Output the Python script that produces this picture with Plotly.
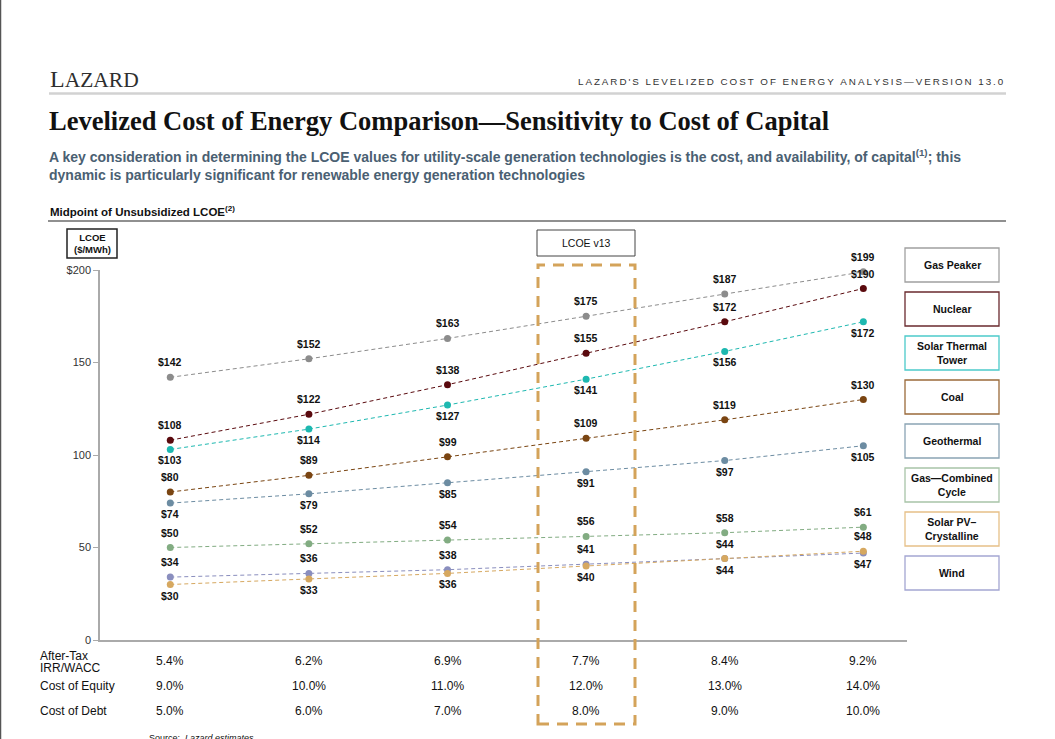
import plotly.graph_objects as go

# ---------------- data ----------------
x_idx = [0, 1, 2, 3, 4, 5]
series_names = ["Gas Peaker", "Nuclear", "Solar Thermal Tower", "Coal", "Geothermal",
                "Gas—Combined Cycle", "Solar PV–Crystalline", "Wind"]
gas_peaker = [142, 152, 163, 175, 187, 199]
nuclear = [108, 122, 138, 155, 172, 190]
solar_thermal = [103, 114, 127, 141, 156, 172]
coal = [80, 89, 99, 109, 119, 130]
geothermal = [74, 79, 85, 91, 97, 105]
gas_cc = [50, 52, 54, 56, 58, 61]
solar_pv = [30, 33, 36, 40, 44, 48]
wind = [34, 36, 38, 41, 44, 47]

irr_wacc = ["5.4%", "6.2%", "6.9%", "7.7%", "8.4%", "9.2%"]
cost_equity = ["9.0%", "10.0%", "11.0%", "12.0%", "13.0%", "14.0%"]
cost_debt = ["5.0%", "6.0%", "7.0%", "8.0%", "9.0%", "10.0%"]

ytick_vals = [0, 50, 100, 150, 200]
ytick_text = ["0", "50", "100", "150", "$200"]

legend_labels = ["Gas Peaker", "Nuclear", "Solar Thermal<br>Tower", "Coal", "Geothermal",
                 "Gas—Combined<br>Cycle", "Solar PV–<br>Crystalline", "Wind"]

# ---------------- styles ----------------
line_colors = ["#8C8C8C", "#5A0A0E", "#1DB8B0", "#7A4512", "#6C8CA2", "#82AC82", "#D6A860", "#8A8EBE"]
box_colors = ["#A0A0A0", "#6A2A2E", "#4CCACA", "#9A6A3A", "#8AA4B4", "#A8C4A8", "#E6C088", "#A4A6D2"]
label_above = [
    [True] * 6,
    [True] * 6,
    [False] * 6,
    [True] * 6,
    [False] * 6,
    [True] * 6,
    [False] * 5 + [True],
    [True] * 5 + [False],
]
all_series = [gas_peaker, nuclear, solar_thermal, coal, geothermal, gas_cc, solar_pv, wind]

W, H = 1055, 739
PL, PR, PT, PB = 100, 907, 270, 640


def fx(px):
    return (px - PL) / (PR - PL)


def fy(py):
    return (PB - py) / (PB - PT)


FONT = "Liberation Sans, Arial, sans-serif"
SERIF = "Liberation Serif, Times New Roman, serif"

fig = go.Figure()

shapes = []
annotations = []

# draw order: bottom series first
for i in reversed(range(len(all_series))):
    vals = all_series[i]
    fig.add_trace(go.Scatter(
        x=x_idx, y=vals, mode="lines+markers",
        name=series_names[i],
        line=dict(color=line_colors[i], width=1, dash="4px,3px"),
        marker=dict(color=line_colors[i], size=7),
        cliponaxis=False,
        showlegend=False,
        hoverinfo="skip",
    ))
    for xi, v, up in zip(x_idx, vals, label_above[i]):
        annotations.append(dict(xref="x", yref="y", x=xi, y=v, text=f"${v}", showarrow=False,
                                xanchor="center", yanchor="middle", yshift=15 if up else -11,
                                font=dict(family=FONT, size=10.5, color="#111111", weight="bold")))

# left page border
shapes.append(dict(type="line", xref="paper", yref="paper", x0=fx(0.5), x1=fx(0.5), y0=fy(0), y1=fy(739),
                   line=dict(color="#555555", width=1.5)))
# header line
shapes.append(dict(type="line", xref="paper", yref="paper", x0=fx(49), x1=fx(1006), y0=fy(93.5), y1=fy(93.5),
                   line=dict(color="#D2D2D2", width=2.5)))
# black line under midpoint label
shapes.append(dict(type="line", xref="paper", yref="paper", x0=fx(48), x1=fx(1006), y0=fy(221), y1=fy(221),
                   line=dict(color="#222222", width=1.2)))
# LCOE ($/MWh) box
shapes.append(dict(type="rect", xref="paper", yref="paper", x0=fx(67), x1=fx(117), y0=fy(258), y1=fy(229),
                   line=dict(color="#222222", width=1.5), fillcolor="white"))
# LCOE v13 box
shapes.append(dict(type="rect", xref="paper", yref="paper", x0=fx(537), x1=fx(635), y0=fy(256), y1=fy(230),
                   line=dict(color="#444444", width=1), fillcolor="white"))
# dashed golden highlight
shapes.append(dict(type="rect", xref="paper", yref="paper", x0=fx(538), x1=fx(635), y0=fy(724), y1=fy(265),
                   line=dict(color="#D4A35A", width=3, dash="11px,8px")))

# legend boxes
for k, (lab, col) in enumerate(zip(legend_labels, box_colors)):
    top = 248 + 44 * k
    shapes.append(dict(type="rect", xref="paper", yref="paper", x0=fx(905), x1=fx(999),
                       y0=fy(top + 34), y1=fy(top), line=dict(color=col, width=1.3), fillcolor="white"))
    annotations.append(dict(xref="paper", yref="paper", x=fx(952), y=fy(top + 17), text=lab,
                            showarrow=False, xanchor="center", yanchor="middle", align="center",
                            font=dict(family=FONT, size=10.5, color="#111111", weight="bold")))

# header texts
annotations.append(dict(xref="paper", yref="paper", x=fx(48), y=fy(79),
                        text="<span style='font-size:24px'>L</span>AZARD", showarrow=False,
                        xanchor="left", yanchor="middle",
                        font=dict(family=SERIF, size=21.5, color="#2E2E2E")))
top_right = "LAZARD'S LEVELIZED COST OF ENERGY ANALYSIS—VERSION 13.0"
annotations.append(dict(xref="paper", yref="paper", x=fx(1006), y=fy(81),
                        text="\u2009".join(top_right), showarrow=False,
                        xanchor="right", yanchor="middle",
                        font=dict(family=FONT, size=9.8, color="#333333")))
annotations.append(dict(xref="paper", yref="paper", x=fx(47), y=fy(121),
                        text="Levelized Cost of Energy Comparison—Sensitivity to Cost of Capital",
                        showarrow=False, xanchor="left", yanchor="middle",
                        font=dict(family=SERIF, size=26.5, color="#111111", weight="bold")))
annotations.append(dict(xref="paper", yref="paper", x=fx(47), y=fy(165),
                        text="A key consideration in determining the LCOE values for utility-scale generation technologies is the cost, and availability, of capital<sup>(1)</sup>; this<br>dynamic is particularly significant for renewable energy generation technologies",
                        showarrow=False, xanchor="left", yanchor="middle", align="left",
                        font=dict(family=FONT, size=14, color="#4A6072", weight="bold")))
annotations.append(dict(xref="paper", yref="paper", x=fx(48), y=fy(211),
                        text="Midpoint of Unsubsidized LCOE<sup>(2)</sup>", showarrow=False,
                        xanchor="left", yanchor="middle",
                        font=dict(family=FONT, size=11.5, color="#111111", weight="bold")))
annotations.append(dict(xref="paper", yref="paper", x=fx(92), y=fy(243.5),
                        text="LCOE<br>($/MWh)", showarrow=False, xanchor="center", yanchor="middle",
                        font=dict(family=FONT, size=9.5, color="#111111", weight="bold")))
annotations.append(dict(xref="paper", yref="paper", x=fx(586), y=fy(243),
                        text="LCOE v13", showarrow=False, xanchor="center", yanchor="middle",
                        font=dict(family=FONT, size=10.5, color="#111111")))

# table rows
row_labels = [("After-Tax", 655.5), ("IRR/WACC", 667.5), ("Cost of Equity", 686), ("Cost of Debt", 711)]
for txt, ypix in row_labels:
    annotations.append(dict(xref="paper", yref="paper", x=fx(38), y=fy(ypix),
                            text=txt, showarrow=False, xanchor="left", yanchor="middle",
                            font=dict(family=FONT, size=12, color="#111111")))
for row_vals, ypix in [(irr_wacc, 661), (cost_equity, 686), (cost_debt, 711)]:
    for i, v in zip(x_idx, row_vals):
        annotations.append(dict(xref="x", yref="paper", x=i, y=fy(ypix), text=v, showarrow=False,
                                xanchor="center", yanchor="middle",
                                font=dict(family=FONT, size=12, color="#111111")))

annotations.append(dict(xref="paper", yref="paper", x=fx(147), y=fy(731),
                        text="Source:  <i>Lazard estimates</i>", showarrow=False, xanchor="left", yanchor="top",
                        font=dict(family=FONT, size=9, color="#111111")))

fig.update_layout(
    width=W, height=H,
    margin=dict(l=PL, r=W - PR, t=PT, b=H - PB, pad=0),
    paper_bgcolor="white", plot_bgcolor="white",
    shapes=shapes, annotations=annotations,
    font=dict(family=FONT),
    xaxis=dict(range=[-0.507, 5.315], showgrid=False, zeroline=False, showticklabels=False,
               showline=True, linecolor="#AAAAAA", linewidth=1.5, ticks="", fixedrange=True),
    yaxis=dict(range=[0, 200], showgrid=False, zeroline=False, tickvals=ytick_vals, ticktext=ytick_text,
               showline=True, linecolor="#AAAAAA", linewidth=1.5, ticks="outside", ticklen=5,
               tickcolor="#AAAAAA", tickfont=dict(family=FONT, size=11, color="#333333"), fixedrange=True),
)

fig.write_html("out.html")
